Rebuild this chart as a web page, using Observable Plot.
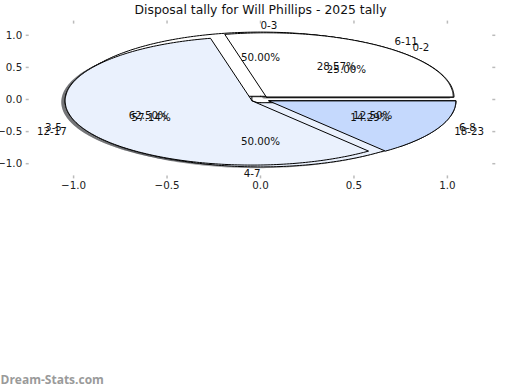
<!DOCTYPE html>
<html><head><meta charset="utf-8">
<script src="https://cdn.jsdelivr.net/npm/d3@7"></script>
<script src="https://cdn.jsdelivr.net/npm/@observablehq/plot@0.6"></script>
<style>body{margin:0;background:#fff;} svg{display:block}</style>
</head><body><div id="chart"></div>
<script>
const title = "Disposal tally for Will Phillips - 2025 tally";
const watermark = "Dream-Stats.com";
const pie1Labels = ["0-3", "4-7"];
const pie1Values = [50, 50];
const pie2Labels = ["0-2", "3-5", "6-8"];
const pie2Values = [25, 62.5, 12.5];
const pie3Labels = ["6-11", "12-17", "18-23"];
const pie3Values = [28.57, 57.14, 14.29];
const sliceColors = ["#ffffff", "#eaf1fd", "#c5d9fd"];
const xTicks = [-1, -0.5, 0, 0.5, 1];
const yTicks = [-1, -0.5, 0, 0.5, 1];
const explode = 0.05;
const shadowOffset = 0.02;

function buildPie(pid, labels, values) {
  const total = d3.sum(values);
  let a = 0;
  const pts = [], labs = [], pcts = [];
  values.forEach((v, i) => {
    const t1 = a, t2 = a + 360 * v / total; a = t2;
    const tm = (t1 + t2) / 2 * Math.PI / 180;
    const cx = explode * Math.cos(tm), cy = explode * Math.sin(tm);
    const id = pid + "-" + i;
    const color = sliceColors[i % sliceColors.length];
    pts.push({id, x: cx, y: cy, color});
    const n = Math.max(2, Math.ceil(t2 - t1));
    for (let k = 0; k <= n; k++) {
      const t = (t1 + (t2 - t1) * k / n) * Math.PI / 180;
      pts.push({id, x: cx + Math.cos(t), y: cy + Math.sin(t), color});
    }
    pts.push({id, x: cx, y: cy, color});
    labs.push({text: labels[i], x: cx + 1.1 * Math.cos(tm), y: cy + 1.1 * Math.sin(tm)});
    pcts.push({text: (100 * v / total).toFixed(2) + "%", x: cx + 0.6 * Math.cos(tm), y: cy + 0.6 * Math.sin(tm)});
  });
  return {pts, labs, pcts};
}

const pie1 = buildPie(1, pie1Labels, pie1Values);
const pie2 = buildPie(2, pie2Labels, pie2Values);
const pie3 = buildPie(3, pie3Labels, pie3Values);
const drawOrder = [pie2, pie1, pie3];
const allLabs = [pie1, pie2, pie3].flatMap(p => p.labs);
const allPcts = [pie1, pie2, pie3].flatMap(p => p.pcts);

const shadowColor = c => { const r = d3.rgb(c); return d3.rgb(r.r * 0.3, r.g * 0.3, r.b * 0.3).formatHex(); };
const fmt = d3.format(".1f");
const FONT = "DejaVu Sans";
const FS = 10.3;

const marks = [];
for (const p of drawOrder) {
  const ids = [...new Set(p.pts.map(d => d.id))];
  for (const id of ids) {
    const data = p.pts.filter(d => d.id === id);
    marks.push(Plot.line(data, {x: d => d.x - shadowOffset, y: d => d.y - shadowOffset, fill: shadowColor(data[0].color), fillOpacity: 0.5, stroke: "none"}));
  }
}
for (const p of drawOrder) {
  const ids = [...new Set(p.pts.map(d => d.id))];
  for (const id of ids) {
    const data = p.pts.filter(d => d.id === id);
    marks.push(Plot.line(data, {x: "x", y: "y", fill: data[0].color, stroke: "#000", strokeWidth: 1, strokeLinejoin: "miter"}));
  }
}
marks.push(
  Plot.text(allLabs.filter(d => d.x > 0), {x: "x", y: "y", text: "text", textAnchor: "start", fill: "#111", fontSize: FS}),
  Plot.text(allLabs.filter(d => !(d.x > 0)), {x: "x", y: "y", text: "text", textAnchor: "end", fill: "#111", fontSize: FS}),
  Plot.text(allPcts, {x: "x", y: "y", text: "text", textAnchor: "middle", fill: "#111", fontSize: FS}),
  Plot.axisX({anchor: "bottom", ticks: xTicks, tickSize: 3, tickPadding: 3, stroke: "#bbb", strokeWidth: 1.5, fill: "#222", tickFormat: fmt, label: null, fontSize: FS}),
  Plot.axisX({anchor: "top", ticks: xTicks, tickSize: 3, stroke: "#bbb", strokeWidth: 1.5, tickFormat: () => "", label: null}),
  Plot.axisY({anchor: "left", ticks: yTicks, tickSize: 3, tickPadding: 4, stroke: "#bbb", strokeWidth: 1.5, fill: "#222", tickFormat: fmt, label: null, fontSize: FS}),
  Plot.axisY({anchor: "right", ticks: yTicks, tickSize: 3, stroke: "#bbb", strokeWidth: 1.5, tickFormat: () => "", label: null}),
  Plot.text([title], {frameAnchor: "top", lineAnchor: "middle", dy: -13, fontSize: 12.4, fill: "#111", text: d => d}),
  Plot.text([watermark], {frameAnchor: "bottom-left", lineAnchor: "middle", dx: -28.7, dy: 204.6, textAnchor: "start", fontSize: 12, fontWeight: "bold", fontFamily: "Open Sans", fill: "#9a9a9a", text: d => d})
);

const chart = Plot.plot({
  width: 520,
  height: 390,
  marginLeft: 28.7,
  marginRight: 28.7,
  marginTop: 22.6,
  marginBottom: 214.6,
  style: {fontFamily: FONT, fontSize: FS + "px", background: "#fff", color: "#222"},
  x: {domain: [-1.2375, 1.2375]},
  y: {domain: [-1.19, 1.19]},
  marks
});
document.getElementById("chart").appendChild(chart);
</script>
</body></html>
